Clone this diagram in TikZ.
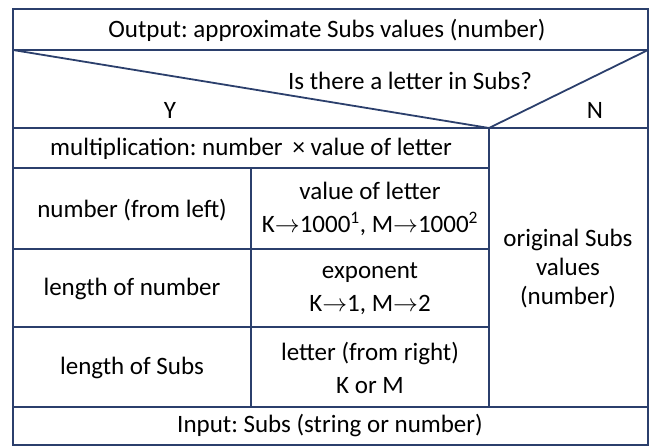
\documentclass[tikz,border=0pt]{standalone}
\usepackage{fontspec}
\setmainfont{Carlito}
\definecolor{navy}{HTML}{2B3F6C}
\frenchspacing
\begin{document}
\begin{tikzpicture}[x=1pt,y=-1pt,
  grid/.style={draw=navy, line width=1.8pt},
  txt/.style={align=center, inner sep=0pt, font=\fontsize{25}{33}\selectfont, text=black},
  txtr/.style={txt, font=\fontsize{25}{29}\selectfont}]
\useasboundingbox (0,0) rectangle (650,446);
% outer and rows
\draw[grid] (13,9) rectangle (648,445);
\draw[grid] (13,50) -- (648,50);
\draw[grid] (13,128) -- (648,128);
\draw[grid] (13,168) -- (489,168);
\draw[grid] (13,249) -- (489,249);
\draw[grid] (13,327) -- (489,327);
\draw[grid] (13,407) -- (648,407);
\draw[grid] (489,128) -- (489,407);
\draw[grid] (251,168) -- (251,407);
% decision diagonals
\coordinate (tl) at (13,50);
\coordinate (tr) at (648,50);
\coordinate (v) at (489,128);
\draw[grid] (tl) -- (v) -- (tr);
% texts
\node[txt] (out) at (327,30) {Output: approximate Subs values (number)};
\node[txt] (q) at (410,81) {Is there a letter in Subs?};
\node[txt] (y) at (170,110) {Y};
\node[txt] (n) at (595,110) {N};
\node[txt] (mul) at (251,149) {multiplication: number\, × value of letter};
\node[txt] (num) at (132,210) {number (from left)};
\node[txt] (val) at (370,209) {value of letter\\K$\rightarrow$1000\textsuperscript{1}, M$\rightarrow$1000\textsuperscript{2}};
\node[txt] (len) at (132,289) {length of number};
\node[txt] (exp) at (370,289) {exponent\\K$\rightarrow$1, M$\rightarrow$2};
\node[txt] (ls) at (132,368) {length of Subs};
\node[txt] (let) at (370,368) {letter (from right)\\K or M};
\node[txtr] (orig) at (568,269) {original Subs\\values\\(number)};
\node[txt] (in) at (330,426) {Input: Subs (string or number)};
\end{tikzpicture}
\end{document}
